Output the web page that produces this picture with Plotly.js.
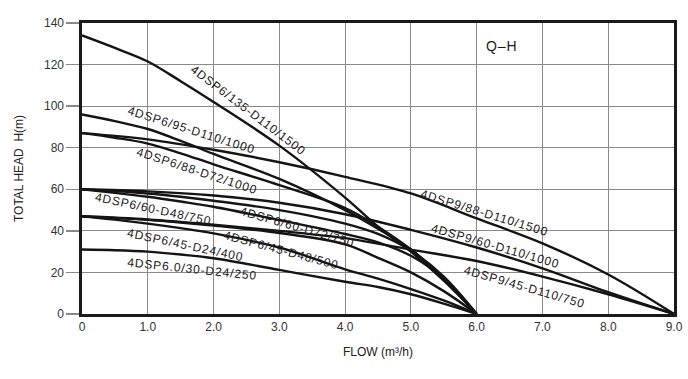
<!DOCTYPE html>
<html>
<head>
<meta charset="utf-8">
<script src="https://cdn.plot.ly/plotly-3.0.1.min.js"></script>
<style>
  html, body { margin: 0; padding: 0; background: #fff; }
  #chart { width: 688px; height: 379px; }
  .annotation-text { letter-spacing: 0.9px; }
</style>
</head>
<body>
<div id="chart"></div>
<script>
// Flow grids (m3/h)
const flow6 = [0, 0.5, 1, 1.5, 2, 3, 4, 4.5, 5, 5.5, 6];
const flow9 = [0, 1, 2, 3, 4, 5, 6, 7, 8, 9];

// Series names
const seriesNames = [
  "4DSP6/135-D110/1500",
  "4DSP6/95-D110/1000",
  "4DSP6/88-D72/1000",
  "4DSP6/60-D72/750",
  "4DSP6/60-D48/750",
  "4DSP6/45-D48/500",
  "4DSP6/45-D24/400",
  "4DSP6.0/30-D24/250",
  "4DSP9/88-D110/1500",
  "4DSP9/60-D110/1000",
  "4DSP9/45-D110/750"
];

// Head values (m)
const head6_135 = [134, 128, 121.5, 112, 102, 81, 56, 42, 30, 16, 0];
const head6_95  = [96, 92.8, 89, 83.3, 77, 65, 50, 41, 31, 17, 0];
const head6_88  = [87, 84.8, 82, 77.3, 72, 62, 51, 42, 31, 17, 0];
const head6_60a = [60, 59.1, 58, 56.4, 54.5, 50, 43.5, 38.5, 30.5, 18, 0];
const head6_60b = [60, 58.3, 56.4, 54.1, 51.6, 45.2, 38.5, 34.5, 28, 17, 0];
const head6_45a = [47, 46.2, 45.3, 44, 42.5, 39, 33.5, 27, 20, 11, 0];
const head6_45b = [47, 45.4, 43.5, 41.3, 38.8, 32, 21.5, 17, 12, 6.5, 0];
const head6_30  = [31, 30.7, 30, 28.6, 26.8, 21.2, 15.5, 13, 9.5, 5, 0];
const head9_88  = [87, 84, 79, 73, 66, 58, 46, 34, 19, 0];
const head9_60  = [60, 59, 57, 53.5, 48, 40.5, 32, 22, 10.5, 0];
const head9_45  = [47, 45.5, 43, 40, 36.5, 31, 25.5, 18, 9.5, 0];

const seriesHeads = [head6_135, head6_95, head6_88, head6_60a, head6_60b,
                     head6_45a, head6_45b, head6_30, head9_88, head9_60, head9_45];
const seriesFlows = [flow6, flow6, flow6, flow6, flow6, flow6, flow6, flow6,
                     flow9, flow9, flow9];

// Tick labels
const xTickVals = [0, 1, 2, 3, 4, 5, 6, 7, 8, 9];
const xTickText = ["0", "1.0", "2.0", "3.0", "4.0", "5.0", "6.0", "7.0", "8.0", "9.0"];
const yTickVals = [0, 20, 40, 60, 80, 100, 120, 140];
const yTickText = ["0", "20", "40", "60", "80", "100", "120", "140"];

// Label placement (layout only): [x, y, angle] per series
const labelPlacement = [
  [2.52, 98, 37],
  [1.66, 88.5, 17.5],
  [1.75, 69, 18],
  [3.27, 41.8, 16],
  [1.08, 50.5, 12],
  [3.02, 30.8, 15],
  [1.57, 33, 12],
  [1.67, 21.6, 6],
  [6.12, 48.6, 17],
  [6.28, 32.7, 16],
  [6.73, 13, 16]
];

const traces = seriesNames.map((name, i) => ({
  type: "scatter",
  mode: "lines",
  name: name,
  x: seriesFlows[i],
  y: seriesHeads[i],
  line: { color: "#141414", width: 2.4, shape: "spline", smoothing: 1 },
  hoverinfo: "skip"
}));

const labelFont = { family: "Liberation Sans, Arial, sans-serif", size: 12, color: "#1a1a1a" };

const annotations = seriesNames.map((name, i) => ({
  x: labelPlacement[i][0],
  y: labelPlacement[i][1],
  xref: "x", yref: "y",
  text: name,
  textangle: labelPlacement[i][2],
  showarrow: false,
  xanchor: "center", yanchor: "middle",
  font: labelFont
}));
annotations.push({
  x: 6.38, y: 129, xref: "x", yref: "y",
  text: "Q\u2013H", showarrow: false,
  xanchor: "center", yanchor: "middle",
  font: { family: "Liberation Sans, Arial, sans-serif", size: 14, color: "#1a1a1a" }
});

const layout = {
  width: 688, height: 379,
  margin: { l: 82, r: 14, t: 23, b: 65 },
  paper_bgcolor: "#ffffff",
  plot_bgcolor: "#ffffff",
  showlegend: false,
  font: { family: "Liberation Sans, Arial, sans-serif", size: 12, color: "#333" },
  xaxis: {
    range: [0, 9],
    tickvals: xTickVals, ticktext: xTickText,
    showgrid: true, gridcolor: "#8a8a8a", gridwidth: 1,
    showline: true, linecolor: "#1a1a1a", linewidth: 2.6, mirror: true,
    zeroline: false, ticks: "",
    tickfont: { size: 12, color: "#333" },
    title: { text: "FLOW (m\u00B3/h)", font: { size: 12, color: "#222" }, standoff: 15 }
  },
  yaxis: {
    range: [0, 140],
    tickvals: yTickVals, ticktext: yTickText,
    showgrid: true, gridcolor: "#8a8a8a", gridwidth: 1,
    showline: true, linecolor: "#1a1a1a", linewidth: 2.6, mirror: true,
    zeroline: false, ticks: "outside", ticklen: 13, tickcolor: "#888", tickwidth: 1.5,
    tickfont: { size: 12, color: "#333" },
    title: { text: "TOTAL HEAD&nbsp;&nbsp;H(m)", font: { size: 12, color: "#222" }, standoff: 18 }
  },
  annotations: annotations
};

Plotly.newPlot("chart", traces, layout, { displayModeBar: false, staticPlot: true });
</script>
</body>
</html>
